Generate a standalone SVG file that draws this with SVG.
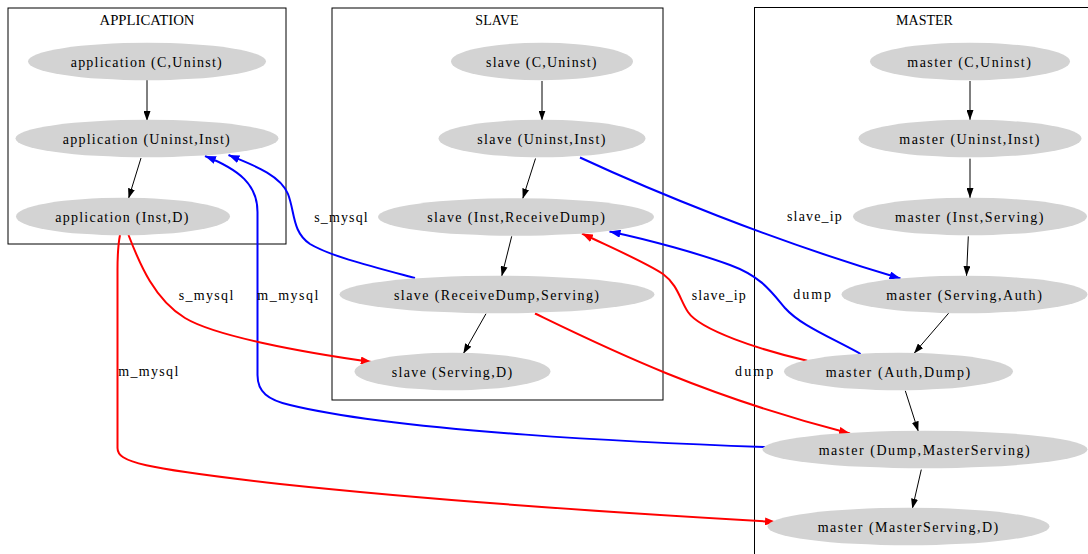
<svg xmlns="http://www.w3.org/2000/svg" width="1088" height="554" viewBox="0 0 1088 554">
  <style>
    .cluster { fill: none; stroke: #000; stroke-width: 1; }
    .ctitle { font-family: "Liberation Serif", "Times New Roman", serif; font-size: 14px; fill: #000; text-anchor: middle; }
    .node ellipse { fill: #d3d3d3; stroke: none; }
    .node text { font-family: "Liberation Serif", "Times New Roman", serif; font-size: 14px; fill: #000; }
    .lbl { font-family: "Liberation Serif", "Times New Roman", serif; font-size: 14px; fill: #000; }
    .e { fill: none; stroke: #000; stroke-width: 1; marker-end: url(#ah-black); }
    .blue { fill: none; stroke: #0000ff; stroke-width: 2; marker-end: url(#ah-blue); }
    .red { fill: none; stroke: #ff0000; stroke-width: 2; marker-end: url(#ah-red); }
  </style>
  <defs>
    <marker id="ah-black" markerUnits="userSpaceOnUse" viewBox="0 0 10 7" markerWidth="10" markerHeight="7" refX="10" refY="3.5" orient="auto">
      <path d="M0,0 L10,3.5 L0,7 z" fill="#000"/>
    </marker>
    <marker id="ah-blue" markerUnits="userSpaceOnUse" viewBox="0 0 11 8" markerWidth="11" markerHeight="8" refX="11" refY="4" orient="auto">
      <path d="M0,0 L11,4 L0,8 z" fill="#0000ff"/>
    </marker>
    <marker id="ah-red" markerUnits="userSpaceOnUse" viewBox="0 0 11 8" markerWidth="11" markerHeight="8" refX="11" refY="4" orient="auto">
      <path d="M0,0 L11,4 L0,8 z" fill="#ff0000"/>
    </marker>
  </defs>
  <rect width="1088" height="554" fill="#fff"/>

  <!-- clusters -->
  <g id="cluster_application">
    <rect class="cluster" x="8" y="8" width="278" height="236"/>
    <text class="ctitle" x="147" y="25" textLength="95" lengthAdjust="spacingAndGlyphs">APPLICATION</text>
  </g>
  <g id="cluster_slave">
    <rect class="cluster" x="332" y="8" width="331" height="392"/>
    <text class="ctitle" x="497" y="25">SLAVE</text>
  </g>
  <g id="cluster_master">
    <rect class="cluster" x="754.5" y="7.5" width="400" height="600"/>
    <text class="ctitle" x="924.5" y="25">MASTER</text>
  </g>

  <!-- connectors -->
  <g id="connectors">
    <!-- application chain -->
    <path class="e" d="M147,80 L147,121"/>
    <path class="e" d="M141,158 L128.5,198.5"/>
    <!-- slave chain -->
    <path class="e" d="M542,81 L542,120.5"/>
    <path class="e" d="M535.5,158.5 L522.7,198.7"/>
    <path class="e" d="M511.7,236.3 L501.7,276.3"/>
    <path class="e" d="M486,313.7 L463.3,353.7"/>
    <!-- master chain -->
    <path class="e" d="M970,81 L970,120"/>
    <path class="e" d="M970,158.7 L970,198"/>
    <path class="e" d="M968.3,236.4 L966.5,276"/>
    <path class="e" d="M948.7,313.1 L914,353.4"/>
    <path class="e" d="M905.3,390.8 L918.3,431.4"/>
    <path class="e" d="M921.3,469.6 L912.3,508.7"/>

    <!-- cross-cluster links -->
    <path class="blue" d="M415,278 C370,266 330,256 310,244 C292,232 295,212 288,194 C280,174 250,164 228.5,155"/>
    <text class="lbl" x="314.3" y="221.5" textLength="53.4" lengthAdjust="spacing">s_mysql</text>

    <path class="blue" d="M765,447 C650,443 400,432 290,405 C268,400 257.5,392 257.5,375 L257.5,212 C257.5,185 240,170 205,156"/>
    <text class="lbl" x="257.3" y="299.5" textLength="61" lengthAdjust="spacing">m_mysql</text>

    <path class="red" d="M128.5,235 C140,265 155,300 185,318 C215,336 300,352 371.7,362"/>
    <text class="lbl" x="178.7" y="299.5" textLength="54.6" lengthAdjust="spacing">s_mysql</text>

    <path class="red" d="M120,235 C118,245 117.5,255 117.5,270 L117.5,448 C117.5,462 140,468 280,484 C420,499 600,512 776,522"/>
    <text class="lbl" x="118.3" y="376" textLength="60" lengthAdjust="spacing">m_mysql</text>

    <path class="blue" d="M580,157.5 C650,190 770,240 900.5,278.5"/>
    <text class="lbl" x="787" y="221" textLength="54.7" lengthAdjust="spacing">slave_ip</text>

    <path class="blue" d="M860.7,354 C830,337 800,325 785,308 C770,290 760,276 730,265 C700,254 650,240 609.5,231.5"/>
    <text class="lbl" x="793.3" y="299" textLength="37.7" lengthAdjust="spacing">dump</text>

    <path class="red" d="M807.3,360.7 C760,350 700,330 688,312 C680,300 678,285 663,274 C645,262 610,247 582,233.5"/>
    <text class="lbl" x="691.7" y="299.5" textLength="54" lengthAdjust="spacing">slave_ip</text>

    <path class="red" d="M535,313.5 C600,345 700,395 850,433.5"/>
    <text class="lbl" x="735" y="376" textLength="38.3" lengthAdjust="spacing">dump</text>
  </g>

  <!-- application nodes -->
  <g id="application_C_Uninst" class="node">
    <ellipse cx="147" cy="61.5" rx="119" ry="18.8"/>
    <text x="70.7" y="66.5" textLength="151" lengthAdjust="spacing">application (C,Uninst)</text>
  </g>
  <g id="application_Uninst_Inst" class="node">
    <ellipse cx="147" cy="138.5" rx="131.5" ry="18.8"/>
    <text x="62.7" y="143.5" textLength="167" lengthAdjust="spacing">application (Uninst,Inst)</text>
  </g>
  <g id="application_Inst_D" class="node">
    <ellipse cx="123" cy="216.5" rx="107" ry="18.8"/>
    <text x="55.3" y="221.5" textLength="133" lengthAdjust="spacing">application (Inst,D)</text>
  </g>

  <!-- slave nodes -->
  <g id="slave_C_Uninst" class="node">
    <ellipse cx="542" cy="61.5" rx="91" ry="18.8"/>
    <text x="486" y="66.5" textLength="110.5" lengthAdjust="spacing">slave (C,Uninst)</text>
  </g>
  <g id="slave_Uninst_Inst" class="node">
    <ellipse cx="542" cy="138.5" rx="103.5" ry="18.8"/>
    <text x="477.3" y="143.5" textLength="128" lengthAdjust="spacing">slave (Uninst,Inst)</text>
  </g>
  <g id="slave_Inst_ReceiveDump" class="node">
    <ellipse cx="516" cy="217" rx="138" ry="18.8"/>
    <text x="427.3" y="222" textLength="177.5" lengthAdjust="spacing">slave (Inst,ReceiveDump)</text>
  </g>
  <g id="slave_ReceiveDump_Serving" class="node">
    <ellipse cx="497" cy="294.5" rx="157.5" ry="18.8"/>
    <text x="394" y="299.5" textLength="205" lengthAdjust="spacing">slave (ReceiveDump,Serving)</text>
  </g>
  <g id="slave_Serving_D" class="node">
    <ellipse cx="452.5" cy="371.5" rx="98" ry="18.8"/>
    <text x="391.7" y="376.5" textLength="120.5" lengthAdjust="spacing">slave (Serving,D)</text>
  </g>

  <!-- master nodes -->
  <g id="master_C_Uninst" class="node">
    <ellipse cx="970" cy="61.5" rx="100" ry="18.8"/>
    <text x="907.3" y="66.5" textLength="123.5" lengthAdjust="spacing">master (C,Uninst)</text>
  </g>
  <g id="master_Uninst_Inst" class="node">
    <ellipse cx="970" cy="138.5" rx="111.5" ry="18.8"/>
    <text x="899.3" y="143.5" textLength="140" lengthAdjust="spacing">master (Uninst,Inst)</text>
  </g>
  <g id="master_Inst_Serving" class="node">
    <ellipse cx="970" cy="216.5" rx="117" ry="18.8"/>
    <text x="895" y="221.5" textLength="148.5" lengthAdjust="spacing">master (Inst,Serving)</text>
  </g>
  <g id="master_Serving_Auth" class="node">
    <ellipse cx="964.5" cy="294.5" rx="123" ry="18.8"/>
    <text x="886.3" y="299.5" textLength="155.5" lengthAdjust="spacing">master (Serving,Auth)</text>
  </g>
  <g id="master_Auth_Dump" class="node">
    <ellipse cx="898.5" cy="371.5" rx="114.5" ry="18.8"/>
    <text x="825.7" y="376.5" textLength="144.5" lengthAdjust="spacing">master (Auth,Dump)</text>
  </g>
  <g id="master_Dump_MasterServing" class="node">
    <ellipse cx="925" cy="449.5" rx="162.5" ry="18.8"/>
    <text x="818.7" y="454.5" textLength="211" lengthAdjust="spacing">master (Dump,MasterServing)</text>
  </g>
  <g id="master_MasterServing_D" class="node">
    <ellipse cx="908.5" cy="526.5" rx="141" ry="18.8"/>
    <text x="817.7" y="531.5" textLength="180.5" lengthAdjust="spacing">master (MasterServing,D)</text>
  </g>
</svg>
